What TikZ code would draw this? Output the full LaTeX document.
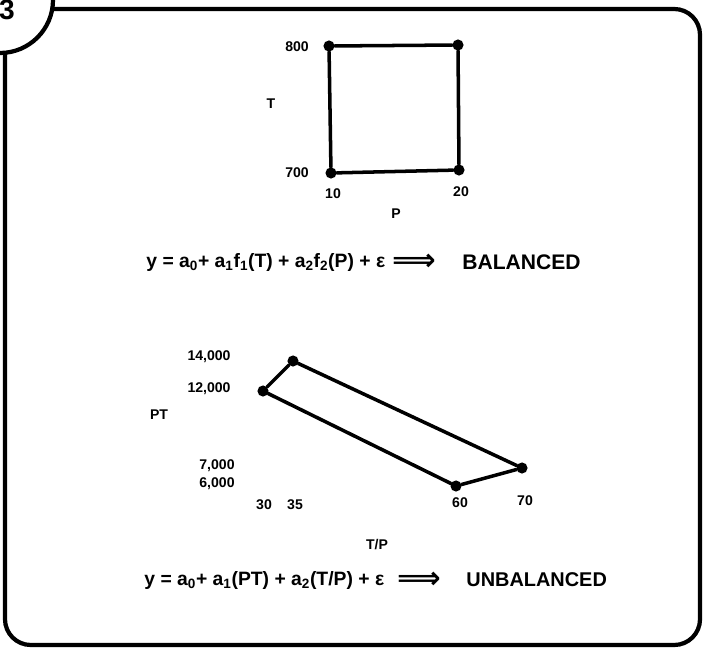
\documentclass[tikz,border=0pt]{standalone}
\usepackage{fontspec}
\setmainfont{Liberation Sans}
\newfontfamily\arrowfont{DejaVu Sans}
\usetikzlibrary{positioning}
\tikzset{
  pt/.style  = {circle, fill=black, inner sep=0pt, minimum size=9.5pt},
  ln/.style  = {line width=3pt, black, line cap=round},
  tk/.style  = {font=\bfseries\fontsize{12}{13}\selectfont, inner sep=1pt},
  eqn/.style = {font=\bfseries\fontsize{16.5}{20}\selectfont, inner sep=1pt},
  frm/.style = {line width=3.6pt, black},
}
\newcommand{\sub}[1]{\textsubscript{#1}}
\newcommand{\bigimp}{{\arrowfont\bfseries\fontsize{26}{28}\selectfont ⟹}}

\begin{document}
\begin{tikzpicture}[x=0.03cm, y=-0.03cm]
  \useasboundingbox (0,0) rectangle (703,649);

  % frame with the numbered tab
  \draw[frm, rounded corners=22pt] (40,9) -- (700,9) -- (700,645) -- (5,645) -- (5,40);
  \begin{scope}
    \clip (0,0) rectangle (703,649);
    \draw[frm, fill=white] (0,0) circle (53);
    \node[font=\bfseries\fontsize{24}{26}\selectfont, anchor=center] (num) at (7,10) {3};
  \end{scope}

  % top plot: T against P
  \node[pt] (tl) at (329,46) {};
  \node[pt] (tr) at (458,45) {};
  \node[pt] (bl) at (331,173) {};
  \node[pt] (br) at (459,170) {};
  \draw[ln] (tl) -- (tr);
  \draw[ln] (tl) -- (bl);
  \draw[ln] (bl) -- (br);
  \draw[ln] (tr) -- (br);

  \node[tk] (t800) at (297,47) {800};
  \node[tk] (t700) at (297,173) {700};
  \node[tk] (tT) at (271,104) {T};
  \node[tk] (p10) at (333,194) {10};
  \node[tk] (p20) at (461,192) {20};
  \node[tk] (pP) at (396,214) {P};

  \node[eqn, anchor=west] (eq1) at (145,262)
    {y = a\sub{0}+ a\sub{1}f\sub{1}(T) + a\sub{2}f\sub{2}(P) + ε};
  \node[eqn, anchor=west, inner sep=0pt] (ar1) at (392,262) {\bigimp};
  \node[eqn, anchor=west, font=\bfseries\fontsize{18}{22}\selectfont] (bal) at (461,262) {BALANCED};

  % bottom plot: PT against T/P
  \node[pt] (a) at (263,391) {};
  \node[pt] (b) at (293,361) {};
  \node[pt] (c) at (456,486) {};
  \node[pt] (d) at (522,468) {};
  \draw[ln] (a) -- (b);
  \draw[ln] (b) -- (d);
  \draw[ln] (a) -- (c);
  \draw[ln] (c) -- (d);

  \node[tk] (y14) at (209,357) {14,000};
  \node[tk] (y12) at (209,389) {12,000};
  \node[tk] (yPT) at (159,415) {PT};
  \node[tk] (y7) at (217,466) {7,000};
  \node[tk] (y6) at (217,484) {6,000};
  \node[tk] (x30) at (264,505) {30};
  \node[tk] (x35) at (295,505) {35};
  \node[tk] (x60) at (460,503) {60};
  \node[tk] (x70) at (525,501) {70};
  \node[tk] (xTP) at (377,545) {T/P};

  \node[eqn, anchor=west] (eq2) at (143,580)
    {y = a\sub{0}+ a\sub{1}(PT) + a\sub{2}(T/P) + ε};
  \node[eqn, anchor=west, inner sep=0pt] (ar2) at (397,580) {\bigimp};
  \node[eqn, anchor=west, font=\bfseries\fontsize{17}{21}\selectfont] (unb) at (465,580) {UNBALANCED};
\end{tikzpicture}
\end{document}
